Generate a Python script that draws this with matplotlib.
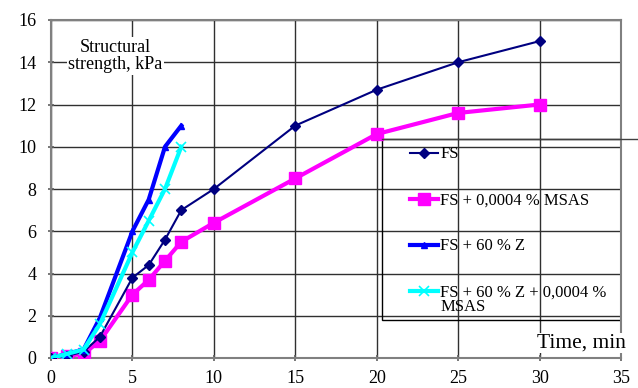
import matplotlib
matplotlib.use("Agg")
import matplotlib.pyplot as plt
from matplotlib.patches import Rectangle
from matplotlib.lines import Line2D

# time, min
t_fs = [0, 1, 2, 3, 5, 6, 7, 8, 10, 15, 20, 25, 30]
t_z = [0, 1, 2, 3, 5, 6, 7, 8]

# structural strength, kPa
fs = [0, 0.1, 0.3, 1.0, 3.8, 4.4, 5.6, 7.0, 8.0, 11.0, 12.7, 14.0, 15.0]
fs_msas = [0, 0.1, 0.2, 0.8, 3.0, 3.7, 4.6, 5.5, 6.4, 8.5, 10.6, 11.6, 12.0]
fs_z = [0, 0.2, 0.4, 1.9, 6.0, 7.5, 10.0, 11.0]
fs_z_msas = [0, 0.2, 0.4, 1.6, 5.0, 6.5, 8.0, 10.0]

labels = ["FS", "FS + 0,0004 % MSAS", "FS + 60 % Z", "FS + 60 % Z + 0,0004 %"]
wrap_tail = "MSAS"  # second line of the last legend entry

plt.rcParams['font.family'] = ['Liberation Serif', 'DejaVu Serif']

fig = plt.figure(figsize=(6.38, 3.88), dpi=100)
ax = fig.add_axes([51 / 638, 30 / 388, 570 / 638, 338 / 388])

ax.plot(t_fs, fs, color='#000080', lw=1.5, marker='D', ms=5, label=labels[0], zorder=5)
ax.plot(t_fs, fs_msas, color='#ff00ff', lw=3, marker='s', ms=9, label=labels[1], zorder=4)
ax.plot(t_z, fs_z, color='#0000ff', lw=3, marker='^', ms=5, label=labels[2], zorder=6)
ax.plot(t_z, fs_z_msas, color='#00ffff', lw=3, marker='x', ms=7, mew=1.2, label=labels[3], zorder=7)

ax.set_xlim(0, 35)
ax.set_ylim(0, 16)
ax.set_xticks(range(0, 36, 5))
ax.set_yticks(range(0, 17, 2))
ax.tick_params(labelsize=13, length=5, direction='inout', color='#606060', width=1.2)
ax.tick_params(axis='x', pad=6)
ax.tick_params(axis='y', pad=8)
ax.grid(True, color='#303030', lw=1.0)
ax.set_axisbelow(True)
for s in ax.spines.values():
    s.set_color('#808080')
    s.set_linewidth(1.5)

ax.text(3.95, 14.3, "Structural\nstrength, kPa", ha='center', va='center', fontsize=13,
        linespacing=1.05, bbox=dict(facecolor='white', edgecolor='none', pad=1), zorder=3)
ax.text(35.3, 0.7, "Time, min", ha='right', va='center', fontsize=15.5, clip_on=False,
        bbox=dict(facecolor='white', edgecolor='none', pad=0.5), zorder=3)

# legend box drawn separately, grid stays visible through it
ax.add_patch(Rectangle((0.581, 0.112), 0.419, 0.536, transform=ax.transAxes,
                       fill=False, edgecolor='black', lw=1.0, zorder=2))
fig.add_artist(Line2D([0.581 * 570 / 638 + 51 / 638, 1.0], [(388 - 139) / 388] * 2,
                      color='#404040', lw=1.0))

leg = ax.legend(loc='upper left', bbox_to_anchor=(0.630, 0.626), fontsize=12,
                frameon=False, handlelength=1.7, handletextpad=0.1,
                labelspacing=1.8, borderpad=0, borderaxespad=0)
leg.set_zorder(8)

# put the wrapped tail of the last label under its first line
fig.canvas.draw()
bb = leg.get_texts()[-1].get_window_extent().transformed(fig.transFigure.inverted())
fig.text(bb.x0, bb.y0 + 0.003, wrap_tail, ha='left', va='top', fontsize=12)

fig.savefig("out.png", dpi=100)
